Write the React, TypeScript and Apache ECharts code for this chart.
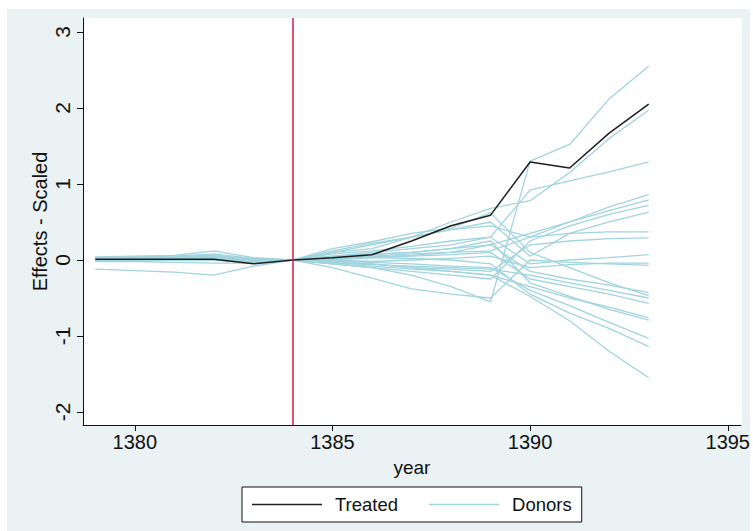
import React, { useEffect, useRef } from "react";
import * as echarts from "echarts";

const years = [1379, 1380, 1381, 1382, 1383, 1384, 1385, 1386, 1387, 1388, 1389, 1390, 1391, 1392, 1393];
const xTicks = [1380, 1385, 1390, 1395];
const yTicks = [-2, -1, 0, 1, 2, 3];
const treatmentYear = 1384;

const treated = [0.01, 0.01, 0.01, 0.01, -0.05, 0, 0.03, 0.07, 0.25, 0.45, 0.59, 1.29, 1.21, 1.67, 2.05];

const donors = [
  [0.02, 0.02, 0.03, 0.05, 0.0, 0, -0.05, -0.1, -0.2, -0.35, -0.55, 1.3, 1.52, 2.12, 2.55],
  [0.03, 0.03, 0.04, 0.06, 0.01, 0, 0.1, 0.15, 0.3, 0.5, 0.68, 0.78, 1.15, 1.6, 1.97],
  [0.01, 0.01, 0.02, 0.03, -0.01, 0, 0.05, 0.1, 0.15, 0.2, 0.3, 0.92, 1.04, 1.16, 1.29],
  [0.02, 0.03, 0.03, 0.04, 0.0, 0, 0.12, 0.22, 0.3, 0.4, 0.45, 0.3, 0.5, 0.7, 0.86],
  [0.0, 0.01, 0.02, 0.02, -0.02, 0, 0.05, 0.08, 0.1, 0.15, 0.2, 0.35, 0.5, 0.65, 0.79],
  [-0.01, 0.0, 0.0, 0.01, -0.02, 0, -0.05, -0.1, -0.15, -0.2, -0.25, 0.25, 0.45, 0.6, 0.72],
  [0.03, 0.04, 0.05, 0.08, 0.02, 0, 0.1, 0.2, 0.3, 0.4, 0.5, 0.05, 0.35, 0.5, 0.63],
  [0.02, 0.02, 0.02, 0.03, -0.01, 0, 0.02, 0.05, 0.08, 0.1, 0.12, 0.3, 0.35, 0.37, 0.37],
  [0.0, 0.0, 0.01, 0.0, -0.03, 0, -0.03, -0.05, -0.1, -0.12, -0.15, 0.2, 0.25, 0.28, 0.29],
  [0.04, 0.05, 0.06, 0.12, 0.03, 0, 0.08, 0.12, 0.18, 0.25, 0.3, -0.05, 0.0, 0.03, 0.07],
  [0.01, 0.01, 0.01, 0.02, -0.02, 0, 0.0, -0.02, 0.0, 0.02, 0.05, -0.1, -0.06, -0.04, -0.04],
  [0.02, 0.02, 0.03, 0.03, -0.01, 0, -0.1, -0.24, -0.38, -0.45, -0.5, 0.0, -0.03, -0.05, -0.07],
  [0.01, 0.02, 0.02, 0.03, 0.0, 0, 0.03, 0.04, 0.06, 0.1, 0.2, -0.15, -0.25, -0.33, -0.43],
  [0.03, 0.03, 0.04, 0.06, 0.01, 0, 0.15, 0.24, 0.35, 0.42, 0.62, 0.1, -0.1, -0.3, -0.47],
  [-0.02, -0.02, -0.03, -0.04, -0.04, 0, -0.04, -0.06, -0.08, -0.1, -0.12, -0.2, -0.3, -0.4, -0.5],
  [0.01, 0.01, 0.02, 0.02, -0.02, 0, 0.0, 0.03, 0.05, 0.07, 0.1, -0.25, -0.35, -0.45, -0.57],
  [0.0, 0.0, 0.01, 0.01, -0.03, 0, -0.05, -0.08, -0.12, -0.15, -0.2, -0.35, -0.5, -0.62, -0.76],
  [0.02, 0.03, 0.03, 0.05, 0.0, 0, 0.04, 0.07, 0.1, 0.15, 0.25, -0.3, -0.48, -0.65, -0.79],
  [0.01, 0.01, 0.0, 0.0, -0.02, 0, -0.02, -0.03, -0.05, -0.08, -0.1, -0.4, -0.6, -0.82, -1.03],
  [-0.12, -0.14, -0.16, -0.2, -0.08, 0, 0.02, 0.03, 0.02, 0.0, -0.05, -0.45, -0.7, -0.9, -1.14],
  [0.0, 0.01, 0.01, 0.02, -0.03, 0, -0.03, -0.05, -0.1, -0.15, -0.2, -0.48, -0.8, -1.2, -1.55],
];

const donorColor = "#a0d4de";
const treatedColor = "#1e1e1e";
const lineRed = "#cf1f4c";

export default function App() {
  const ref = useRef<HTMLDivElement>(null);

  useEffect(() => {
    if (!ref.current) return;
    const chart = echarts.init(ref.current, null, { renderer: "svg" });
    const font = "'Liberation Sans', Arial, Helvetica, sans-serif";
    const toPts = (vals: number[]) => years.map((y, i) => [y, vals[i]]);

    const donorSeries = donors.map((d) => ({
      type: "line",
      name: "Donors",
      data: toPts(d),
      symbol: "none",
      silent: true,
      z: 2,
      lineStyle: { color: donorColor, width: 1.3 },
      itemStyle: { color: donorColor },
    }));

    const option = {
      animation: false,
      backgroundColor: "#ffffff",
      textStyle: { fontFamily: font },
      graphic: {
        elements: [
          {
            type: "rect",
            z: -100,
            silent: true,
            shape: { x: 7, y: 9, width: 743, height: 522 },
            style: { fill: "#eaf2f3" },
          },
          {
            type: "rect",
            z: -99,
            silent: true,
            shape: { x: 83, y: 18, width: 659, height: 407 },
            style: { fill: "#ffffff" },
          },
        ],
      },
      grid: { left: 83, top: 18, right: 11, bottom: 106, containLabel: false },
      xAxis: {
        type: "value",
        min: 1378.69,
        max: 1395.33,
        axisLine: { show: true, onZero: false, lineStyle: { color: "#111", width: 1 } },
        axisTick: { show: true, length: 6, lineStyle: { color: "#111" }, customValues: xTicks },
        axisLabel: {
          customValues: xTicks,
          fontSize: 20,
          color: "#111",
          margin: 7,
          fontFamily: font,
          formatter: (v: number) => String(v),
        },
        splitLine: { show: false },
        name: "year",
        nameLocation: "middle",
        nameGap: 33,
        nameTextStyle: { fontSize: 19, color: "#111", fontFamily: font },
      },
      yAxis: {
        type: "value",
        min: -2.171,
        max: 3.184,
        axisLine: { show: true, onZero: false, lineStyle: { color: "#111", width: 1 } },
        axisTick: { show: true, length: 6, lineStyle: { color: "#111" }, customValues: yTicks },
        axisLabel: {
          customValues: yTicks,
          rotate: 90,
          fontSize: 21,
          color: "#111",
          margin: 10,
          fontFamily: font,
          formatter: (v: number) => String(v),
        },
        splitLine: { show: false },
        name: "Effects - Scaled",
        nameLocation: "middle",
        nameGap: 33,
        nameMoveOverlap: false,
        nameRotate: 90,
        nameTextStyle: { fontSize: 20, color: "#111", fontFamily: font },
      },
      legend: {
        show: true,
        data: [{ name: "Treated" }, { name: "Donors" }],
        left: 242,
        top: 487,
        orient: "horizontal",
        backgroundColor: "#ffffff",
        borderColor: "#111",
        borderWidth: 1,
        borderRadius: 0,
        padding: [8, 10],
        icon: "rect",
        itemWidth: 70,
        itemHeight: 1.5,
        itemGap: 31,
        selectedMode: false,
        textStyle: { fontSize: 18.5, color: "#111", padding: [0, 0, 0, 8], fontFamily: font },
      },
      series: [
        ...donorSeries,
        {
          type: "line",
          name: "Treated",
          data: toPts(treated),
          symbol: "none",
          silent: true,
          z: 3,
          lineStyle: { color: treatedColor, width: 1.5 },
          itemStyle: { color: treatedColor },
          markLine: {
            silent: true,
            symbol: "none",
            label: { show: false },
            lineStyle: { color: lineRed, width: 1.5, type: "solid" },
            data: [{ xAxis: treatmentYear }],
          },
        },
      ],
    };

    chart.setOption(option as any);
    return () => chart.dispose();
  }, []);

  return (
    <div
      ref={ref}
      style={{ position: "absolute", left: 0, top: 0, width: 753, height: 531 }}
    />
  );
}
